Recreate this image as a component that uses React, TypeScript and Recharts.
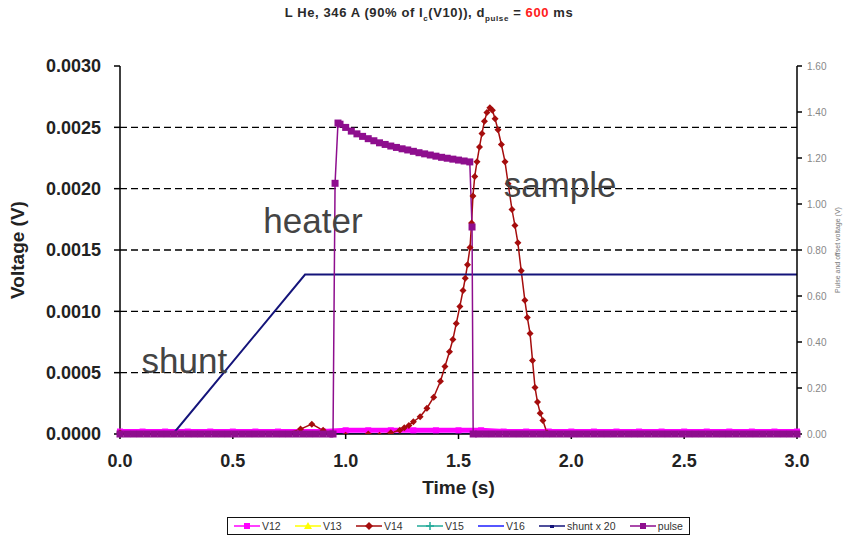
import { ComposedChart, Line, XAxis, YAxis, ReferenceLine, ReferenceDot } from 'recharts';

type Pt = [number, number];

const timeTicks = [0, 0.5, 1, 1.5, 2, 2.5, 3];
const voltTicks = [0, 0.0005, 0.001, 0.0015, 0.002, 0.0025, 0.003];
const pulseTicks = [0, 0.2, 0.4, 0.6, 0.8, 1.0, 1.2, 1.4, 1.6];

// pulse (secondary axis)
const pulse: Pt[] = [
  [0, 0], [0.03, 0], [0.06, 0], [0.09, 0], [0.12, 0], [0.15, 0], [0.18, 0], [0.21, 0], [0.24, 0], [0.27, 0],
  [0.3, 0], [0.33, 0], [0.36, 0], [0.39, 0], [0.42, 0], [0.45, 0], [0.48, 0], [0.51, 0], [0.54, 0], [0.57, 0],
  [0.6, 0], [0.63, 0], [0.66, 0], [0.69, 0], [0.72, 0], [0.75, 0], [0.78, 0], [0.81, 0], [0.84, 0], [0.87, 0],
  [0.9, 0], [0.93, 0], [0.944, 0],
  [0.953, 1.09], [0.966, 1.352], [0.975, 1.347], [1.0, 1.333], [1.025, 1.317], [1.05, 1.305], [1.075, 1.294],
  [1.1, 1.284], [1.125, 1.275], [1.15, 1.266], [1.175, 1.259], [1.2, 1.252], [1.225, 1.246], [1.25, 1.24],
  [1.275, 1.235], [1.3, 1.229], [1.325, 1.223], [1.35, 1.218], [1.375, 1.213], [1.4, 1.208], [1.425, 1.203],
  [1.45, 1.199], [1.475, 1.195], [1.5, 1.191], [1.525, 1.187], [1.55, 1.183], [1.56, 0.9], [1.565, 0],
  [1.59, 0], [1.62, 0], [1.65, 0], [1.68, 0], [1.71, 0], [1.74, 0], [1.77, 0], [1.8, 0], [1.83, 0], [1.86, 0],
  [1.89, 0], [1.92, 0], [1.95, 0], [1.98, 0], [2.01, 0], [2.04, 0], [2.07, 0], [2.1, 0], [2.13, 0], [2.16, 0],
  [2.19, 0], [2.22, 0], [2.25, 0], [2.28, 0], [2.31, 0], [2.34, 0], [2.37, 0], [2.4, 0], [2.43, 0], [2.46, 0],
  [2.49, 0], [2.52, 0], [2.55, 0], [2.58, 0], [2.61, 0], [2.64, 0], [2.67, 0], [2.7, 0], [2.73, 0], [2.76, 0],
  [2.79, 0], [2.82, 0], [2.85, 0], [2.88, 0], [2.91, 0], [2.94, 0], [2.97, 0], [3.0, 0],
];

// sample voltage
const v14: Pt[] = [
  [0, 0.00001], [0.1, -0.00001], [0.15, -0.00003], [0.2, -0.00003], [0.3, -0.00002], [0.4, -0.00003],
  [0.5, -0.00001], [0.6, -0.00003], [0.7, -0.00002], [0.8, 0.00004], [0.85, 0.00008], [0.9, 0.00003],
  [0.95, -0.00002], [1.0, -0.00001], [1.05, -0.00003], [1.1, 0], [1.15, -0.00001], [1.2, 0.00001],
  [1.24, 0.00003], [1.26, 0.00005], [1.28, 0.00007], [1.3, 0.0001], [1.33, 0.00014], [1.36, 0.00021],
  [1.39, 0.0003], [1.42, 0.00043], [1.44, 0.00055], [1.46, 0.00067], [1.475, 0.00077], [1.49, 0.0009],
  [1.506, 0.00104], [1.52, 0.00117], [1.53, 0.00127], [1.54, 0.00138], [1.551, 0.00152], [1.558, 0.00172],
  [1.564, 0.00194], [1.572, 0.0021], [1.582, 0.00222], [1.593, 0.00234], [1.604, 0.00245], [1.615, 0.00255],
  [1.626, 0.00262], [1.639, 0.00266], [1.65, 0.00264], [1.662, 0.00257], [1.675, 0.00248], [1.69, 0.00236],
  [1.706, 0.00222], [1.72, 0.00204], [1.737, 0.00183], [1.75, 0.0017], [1.763, 0.00156], [1.778, 0.00133],
  [1.794, 0.00109], [1.805, 0.00095], [1.817, 0.00082], [1.828, 0.0006], [1.839, 0.00038], [1.85, 0.00026],
  [1.862, 0.00017], [1.874, 0.00011], [1.892, 0.00001], [1.95, -0.00001], [2.0, -0.00002], [2.1, -0.00003],
  [2.2, -0.00001], [2.3, -0.00003], [2.4, -0.00002], [2.5, -0.00003], [2.6, -0.00001], [2.7, -0.00003],
  [2.8, -0.00002], [2.9, -0.00003], [3.0, -0.00001],
];

const v12: Pt[] = [
  [0, 0.00002], [0.1, 0.00002], [0.2, 0.00002], [0.3, 0.00002], [0.4, 0.00002], [0.5, 0.00002],
  [0.6, 0.00002], [0.7, 0.00002], [0.8, 0.00002], [0.9, 0.00002], [1.0, 0.00003], [1.1, 0.00003],
  [1.2, 0.00003], [1.3, 0.00003], [1.4, 0.00003], [1.5, 0.00003], [1.6, 0.00003], [1.7, 0.00002],
  [1.8, 0.00002], [1.9, 0.00002], [2.0, 0.00002], [2.1, 0.00002], [2.2, 0.00002], [2.3, 0.00002],
  [2.4, 0.00002], [2.5, 0.00002], [2.6, 0.00002], [2.7, 0.00002], [2.8, 0.00002], [2.9, 0.00002], [3.0, 0.00002],
];

const v13: Pt[] = [
  [0, 0], [0.5, 0], [1.0, 0], [1.2, -0.00001], [1.27, -0.00003], [1.32, -0.00003], [1.4, 0],
  [1.55, -0.00002], [1.7, 0], [2.0, 0], [2.5, 0], [3.0, 0],
];

const v15: Pt[] = [[0, 0], [1.0, 0], [2.0, 0], [3.0, 0]];
const v16: Pt[] = [[0, 0], [1.0, 0], [2.0, 0], [3.0, 0]];

const shunt: Pt[] = [[0, 0], [0.235, 0], [0.82, 0.0013], [3.0, 0.0013]];

const notes = [
  { label: 'heater', t: 0.855, v: 0.00174 },
  { label: 'sample', t: 1.95, v: 0.00203 },
  { label: 'shunt', t: 0.285, v: 0.0006 },
];

const toRows = (pts: Pt[]) => pts.map(([t, v]) => ({ t, v }));

const C = {
  v12: '#ff00ff',
  v13: '#ffff00',
  v14: '#a50d0d',
  v15: '#22aa99',
  v16: '#1e1eff',
  shunt: '#14147a',
  pulse: '#8e0e8e',
};

const square = (color: string, size: number) => (p: any) => (
  <rect key={p.key} x={p.cx - size / 2} y={p.cy - size / 2} width={size} height={size} fill={color} />
);

const diamond = (color: string) => (p: any) => (
  <path
    key={p.key}
    d={`M${p.cx},${p.cy - 3.5} L${p.cx + 3.5},${p.cy} L${p.cx},${p.cy + 3.5} L${p.cx - 3.5},${p.cy} Z`}
    fill={color}
  />
);

const LEGEND = [
  { name: 'V12', color: C.v12, marker: 'square' },
  { name: 'V13', color: C.v13, marker: 'triangle' },
  { name: 'V14', color: C.v14, marker: 'diamond' },
  { name: 'V15', color: C.v15, marker: 'plus' },
  { name: 'V16', color: C.v16, marker: 'none' },
  { name: 'shunt x 20', color: C.shunt, marker: 'dash' },
  { name: 'pulse', color: C.pulse, marker: 'square' },
];

function LegendIcon({ color, marker }: { color: string; marker: string }) {
  return (
    <svg width={26} height={10} style={{ display: 'block' }}>
      <line x1={0} y1={5} x2={26} y2={5} stroke={color} strokeWidth={1.5} />
      {marker === 'square' && <rect x={10} y={2} width={6} height={6} fill={color} />}
      {marker === 'triangle' && <path d="M13,1 L17,8 L9,8 Z" fill={color} />}
      {marker === 'diamond' && <path d="M13,1 L17,5 L13,9 L9,5 Z" fill={color} />}
      {marker === 'plus' && <path d="M13,1 L13,9 M9,5 L17,5" stroke={color} strokeWidth={1.5} />}
      {marker === 'dash' && <rect x={11} y={4} width={4} height={3} fill={color} />}
    </svg>
  );
}

export default function App() {
  return (
    <div style={{ position: 'relative', width: 844, height: 538, background: '#fff', fontFamily: '"Liberation Sans", Arial, sans-serif' }}>
      <style>{'body{margin:0}'}</style>
      <div
        style={{
          position: 'absolute', top: 5, left: 0, width: 858, textAlign: 'center',
          fontSize: 13, fontWeight: 'bold', color: '#2a2a2a', letterSpacing: 0.6,
        }}
      >
        L He, 346 A (90% of I<sub style={{ fontSize: 8 }}>c</sub>(V10)), d<sub style={{ fontSize: 8 }}>pulse</sub> ={' '}
        <span style={{ color: '#ff2020' }}>600</span> ms
      </div>
      <ComposedChart width={844} height={500} margin={{ top: 66, right: 0, left: 0, bottom: 6 }}>
        <XAxis
          type="number"
          dataKey="t"
          domain={[0, 3]}
          ticks={timeTicks}
          tickFormatter={(v: number) => v.toFixed(1)}
          stroke="#000"
          strokeWidth={1.5}
          tick={{ fill: '#222', fontSize: 18, fontWeight: 'bold' }}
          tickSize={5}
          tickMargin={15}
          height={60}
          label={{ value: 'Time (s)', position: 'insideBottom', offset: 0, fill: '#222', fontSize: 19, fontWeight: 'bold' }}
        />
        <YAxis
          yAxisId="left"
          domain={[0, 0.003]}
          ticks={voltTicks}
          tickFormatter={(v: number) => v.toFixed(4)}
          stroke="#000"
          strokeWidth={1.5}
          width={120}
          tick={{ fill: '#222', fontSize: 18, fontWeight: 'bold' }}
          tickSize={6}
          tickMargin={13}
          allowDataOverflow
          label={{ value: 'Voltage (V)', angle: -90, position: 'insideLeft', offset: 17, fill: '#222', fontSize: 19, fontWeight: 'bold', style: { textAnchor: 'middle' } }}
        />
        <YAxis
          yAxisId="right"
          orientation="right"
          domain={[0, 1.6]}
          ticks={pulseTicks}
          tickFormatter={(v: number) => v.toFixed(2)}
          stroke="#000"
          strokeWidth={1.5}
          width={47}
          tick={{ fill: '#888', fontSize: 10 }}
          tickSize={5}
          tickMargin={5}
          label={{ value: 'Pulse and offset voltage (V)', angle: -90, position: 'insideRight', offset: 6, fill: '#777', fontSize: 7, style: { textAnchor: 'middle' } }}
        />
        {voltTicks.slice(1, -1).map((v) => (
          <ReferenceLine key={v} yAxisId="left" y={v} stroke="#000" strokeWidth={1.3} strokeDasharray="7 4" />
        ))}
        <Line yAxisId="left" data={toRows(v12)} dataKey="v" stroke={C.v12} strokeWidth={5} dot={square(C.v12, 6)} isAnimationActive={false} />
        <Line yAxisId="left" data={toRows(v13)} dataKey="v" stroke={C.v13} strokeWidth={2} dot={false} isAnimationActive={false} />
        <Line yAxisId="left" data={toRows(v15)} dataKey="v" stroke={C.v15} strokeWidth={1.5} dot={false} isAnimationActive={false} />
        <Line yAxisId="left" data={toRows(v16)} dataKey="v" stroke={C.v16} strokeWidth={1.5} dot={false} isAnimationActive={false} />
        <Line yAxisId="left" data={toRows(v14)} dataKey="v" stroke={C.v14} strokeWidth={1.5} dot={diamond(C.v14)} isAnimationActive={false} />
        <Line yAxisId="left" data={toRows(shunt)} dataKey="v" stroke={C.shunt} strokeWidth={2} dot={false} isAnimationActive={false} />
        <Line yAxisId="right" data={toRows(pulse)} dataKey="v" stroke={C.pulse} strokeWidth={1.5} dot={square(C.pulse, 7)} isAnimationActive={false} />
        {notes.map((n) => (
          <ReferenceDot
            key={n.label}
            yAxisId="left"
            x={n.t}
            y={n.v}
            r={0}
            stroke="none"
            label={{ value: n.label, position: 'center', fill: '#444', fontSize: 35 }}
          />
        ))}
      </ComposedChart>
      <div
        style={{
          position: 'absolute', top: 517, left: 227, width: 463, height: 18, boxSizing: 'border-box',
          border: '1.5px solid #111', display: 'flex', alignItems: 'center', justifyContent: 'space-between',
          fontSize: 10.5, color: '#333', padding: '0 6px',
        }}
      >
        {LEGEND.map((l) => (
          <div key={l.name} style={{ display: 'flex', alignItems: 'center', gap: 2 }}>
            <LegendIcon color={l.color} marker={l.marker} />
            <span>{l.name}</span>
          </div>
        ))}
      </div>
    </div>
  );
}
